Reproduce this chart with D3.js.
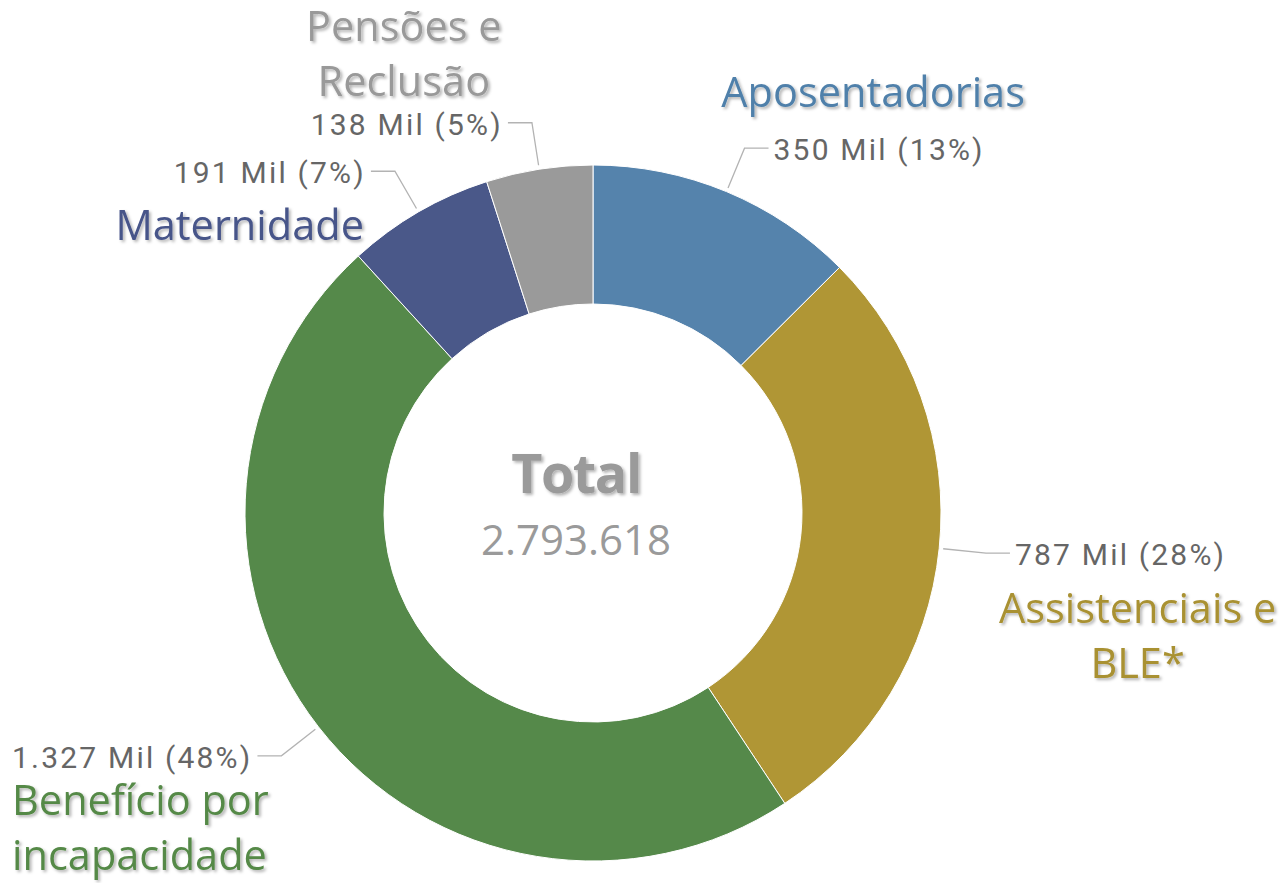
<!DOCTYPE html>
<html>
<head>
<meta charset="utf-8">
<script src="https://cdn.jsdelivr.net/npm/d3@7"></script>
<style>
  body { margin: 0; background: #fff; }
  svg { display: block; }
</style>
</head>
<body>
<div id="chart"></div>
<script>

  /* -----------------------
      DATA
   -------------------------- */

  //-- CATEGORIES (slice order, clockwise from 12 o'clock)
  var categories = ['Aposentadorias', 'Assistenciais e BLE*', 'Benefício por incapacidade', 'Maternidade', 'Pensões e Reclusão'];
  //-- NAME LINES AS PRINTED
  var nameLines = [['Aposentadorias'], ['Assistenciais e', 'BLE*'], ['Benefício por', 'incapacidade'], ['Maternidade'], ['Pensões e', 'Reclusão']];
  //-- VALUES IN THOUSANDS (Mil)
  var values = [350, 787, 1327, 191, 138];
  //-- CENTER TOTAL
  var totalLabel = 'Total';
  var totalValue = 2793618;

  /* -----------------------
      STYLE
   -------------------------- */
  var sliceColors = ['#5583ac', '#b09635', '#55894a', '#4a5889', '#9a9a9a'];
  var nameColors = ['#5080aa', '#a99132', '#548947', '#475489', '#999999'];

  //-- where the category name sits relative to its value label
  var nameLayout = [
    { anchor: 'middle', ref: 'center', dx: -6, dy: -53 },
    { anchor: 'middle', ref: 'center', dx: 17, dy: 58 },
    { anchor: 'start', ref: 'left', dx: 0, dy: 47 },
    { anchor: 'end', ref: 'right', dx: -2, dy: 57 },
    { anchor: 'middle', ref: 'center', dx: -3, dy: -94 }
  ];

  var W = 1284, H = 883;
  var cx = 593, cy = 513;
  var outerR = 348, innerR = 209;
  var lineH = 55;

  var br = d3.formatLocale({ decimal: ',', thousands: '.', grouping: [3], currency: ['R$', ''] });
  var fmt = br.format(',d');
  var sum = d3.sum(values);

  var svg = d3.select('#chart').append('svg')
    .attr('width', W)
    .attr('height', H);

  //-- SHADOW FILTER
  var defs = svg.append('defs');
  defs.append('filter')
    .attr('id', 'shadow')
    .attr('x', '-10%').attr('y', '-20%')
    .attr('width', '130%').attr('height', '160%')
    .append('feDropShadow')
    .attr('dx', 2).attr('dy', 2)
    .attr('stdDeviation', 1.4)
    .attr('flood-color', '#000')
    .attr('flood-opacity', 0.3);

  var g = svg.append('g')
    .attr('transform', 'translate(' + cx + ',' + cy + ')');

  /* -----------------------
      DONUT
   -------------------------- */
  var pie = d3.pie().sort(null).value(function(d) { return d; });
  var arcs = pie(values);

  var arc = d3.arc().innerRadius(innerR).outerRadius(outerR);

  g.selectAll('path.slice')
    .data(arcs)
    .enter().append('path')
    .attr('class', 'slice')
    .attr('d', arc)
    .attr('fill', function(d, i) { return sliceColors[i]; })
    .attr('stroke', '#fff')
    .attr('stroke-width', 1);

  /* -----------------------
      LEADERS + VALUE LABELS
   -------------------------- */
  function polar(a, r) {
    return [Math.sin(a) * r, -Math.cos(a) * r];
  }

  arcs.forEach(function(d, i) {
    var mid = (d.startAngle + d.endAngle) / 2;
    var p0 = polar(mid, outerR + 4);
    var p1 = polar(mid, outerR + 47);
    var side = Math.sin(mid) >= 0 ? 1 : -1;
    var p2 = [p1[0] + side * 24, p1[1]];

    g.append('polyline')
      .attr('points', [p0, p1, p2].map(function(p) { return p.join(','); }).join(' '))
      .attr('fill', 'none')
      .attr('stroke', '#b3b3b3')
      .attr('stroke-width', 1.3);

    var pct = Math.round(d.value / sum * 100);
    var vt = g.append('text')
      .attr('x', p2[0] + side * 5)
      .attr('y', p1[1] + 12)
      .attr('text-anchor', side > 0 ? 'start' : 'end')
      .attr('font-family', 'Roboto, sans-serif')
      .attr('font-size', 30)
      .attr('letter-spacing', 2.2)
      .attr('fill', '#666')
      .text(fmt(d.value) + ' Mil (' + pct + '%)');

    //-- CATEGORY NAME
    var bb = vt.node().getBBox();
    var L = nameLayout[i];
    var x0 = L.ref === 'left' ? bb.x : (L.ref === 'right' ? bb.x + bb.width : bb.x + bb.width / 2);
    var lines = nameLines[i];
    var nt = g.append('text')
      .attr('text-anchor', L.anchor)
      .attr('font-family', '"Open Sans", sans-serif')
      .attr('font-size', 41.5)
      .attr('font-weight', 500)
      .attr('fill', nameColors[i])
      .attr('filter', 'url(#shadow)');
    lines.forEach(function(s, k) {
      nt.append('tspan')
        .attr('x', x0 + L.dx)
        .attr('y', p1[1] + 12 + L.dy + k * lineH)
        .text(s);
    });
  });

  /* -----------------------
      CENTER TOTAL
   -------------------------- */
  g.append('text')
    .attr('text-anchor', 'middle')
    .attr('x', -17)
    .attr('y', -20)
    .attr('font-family', '"Open Sans", sans-serif')
    .attr('font-weight', 'bold')
    .attr('font-size', 54)
    .attr('letter-spacing', -1.5)
    .attr('fill', '#9a9a9a')
    .attr('filter', 'url(#shadow)')
    .text(totalLabel);

  g.append('text')
    .attr('text-anchor', 'middle')
    .attr('x', -17)
    .attr('y', 42)
    .attr('font-family', '"Open Sans", sans-serif')
    .attr('font-size', 42)
    .attr('fill', '#9a9a9a')
    .text(fmt(totalValue));

</script>
</body>
</html>
